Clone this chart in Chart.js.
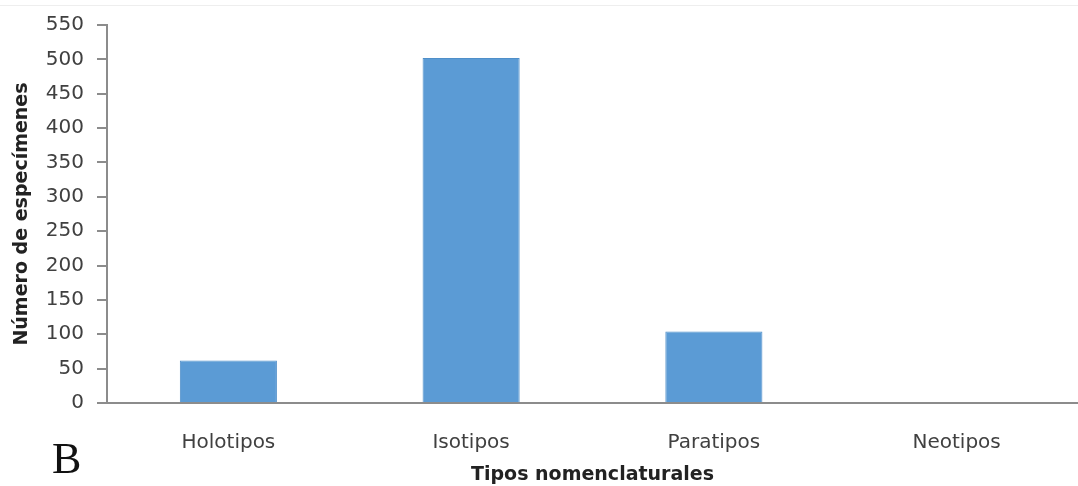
<!DOCTYPE html>
<html>
<head>
<meta charset="utf-8">
<script src="https://cdn.jsdelivr.net/npm/chart.js@4"></script>
<style>
    html, body { margin: 0; padding: 0; background: #fff; }
    #wrap { position: relative; width: 1078px; height: 486px; }
    #topLine { position: absolute; left: 0; top: 5px; width: 1078px; height: 1px; background: #eeeeee; }
    #panel { position: absolute; left: 52px; top: 437px; font-family: "Liberation Serif", "DejaVu Serif", serif; font-size: 44px; color: #111; line-height: 1; }
</style>
</head>
<body>
<div id="wrap">
    <div id="topLine"></div>
    <canvas id="typesChart" width="1078" height="486"></canvas>
    <div id="panel">B</div>
</div>
<script>
const categories = ["Holotipos", "Isotipos", "Paratipos", "Neotipos"];
const specimens = [62, 502, 104, 0];
const yTicks = [0, 50, 100, 150, 200, 250, 300, 350, 400, 450, 500, 550];

const textColor = '#404040';
const axisColor = '#8c8c8c';

window.onload = () => {
    const ctx = document.getElementById('typesChart').getContext('2d');
    new Chart(ctx, {
        type: 'bar',
        data: {
            labels: categories,
            datasets: [{
                data: specimens,
                backgroundColor: '#5b9bd5',
                borderColor: '#4f8fc9',
                borderWidth: 1,
                categoryPercentage: 1,
                barPercentage: 0.4
            }]
        },
        options: {
            responsive: false,
            animation: false,
            layout: { padding: { top: 23, right: 0, left: 0, bottom: 0 } },
            plugins: { legend: { display: false }, tooltip: { enabled: false } },
            scales: {
                x: {
                    grid: { display: false },
                    border: { display: true, color: axisColor, width: 2 },
                    ticks: { color: textColor, font: { family: 'DejaVu Sans', size: 20 }, padding: 20 },
                    title: {
                        display: true,
                        text: 'Tipos nomenclaturales',
                        color: '#222',
                        font: { family: 'DejaVu Sans', size: 19, weight: 'bold' },
                        padding: { top: 0, bottom: 0 }
                    },
                    afterFit: s => { s.height = 83; }
                },
                y: {
                    min: 0,
                    max: 550,
                    afterBuildTicks: s => { s.ticks = yTicks.map(v => ({ value: v })); },
                    grid: { display: true, drawOnChartArea: false, drawTicks: true, tickLength: 10, color: axisColor, lineWidth: 2 },
                    border: { display: true, color: axisColor, width: 2 },
                    ticks: { color: textColor, font: { family: 'DejaVu Sans', size: 20 }, padding: 13 },
                    title: {
                        display: true,
                        text: 'Número de especímenes',
                        color: '#222',
                        font: { family: 'DejaVu Sans', size: 19, weight: 'bold' },
                        padding: { top: 11, bottom: 0 }
                    },
                    afterFit: s => { s.width = 107; }
                }
            }
        }
    });
};
</script>
</body>
</html>
